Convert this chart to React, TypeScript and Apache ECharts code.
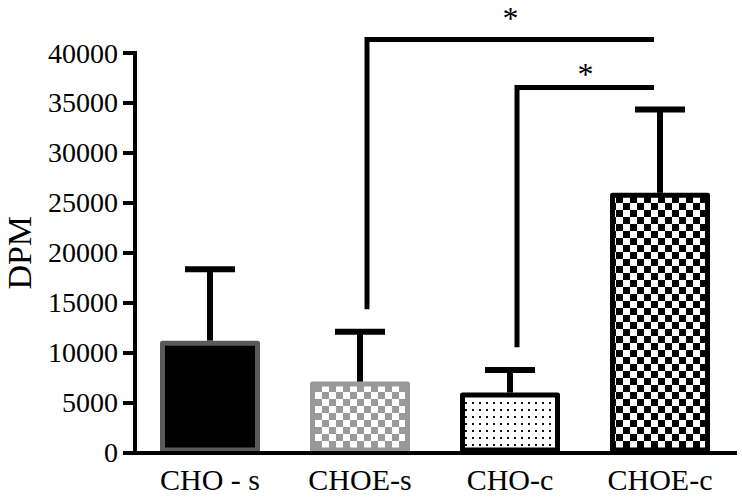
import React, { useEffect, useRef } from "react";
import * as echarts from "echarts";

const categories = ["CHO - s", "CHOE-s", "CHO-c", "CHOE-c"];
const means = [11200, 7100, 6000, 26000];
const errors = [7150, 5000, 2250, 8350];
const yTickMin = 0;
const yTickMax = 40000;
const yTickStep = 5000;
// significance brackets
const bracketFrom = [1, 2];
const bracketTo = [3, 3];
const bracketTop = [41350, 36550];
const bracketLegBottom = [14350, 10550];
const starValue = [43500, 37850];
const starText = ["*", "*"];

const FONT = "'Liberation Serif', 'Times New Roman', serif";

function makeTile(size: number, draw: (ctx: CanvasRenderingContext2D) => void) {
  const c = document.createElement("canvas");
  c.width = size;
  c.height = size;
  const ctx = c.getContext("2d")!;
  ctx.fillStyle = "#fff";
  ctx.fillRect(0, 0, size, size);
  draw(ctx);
  return { image: c.toDataURL(), repeat: "repeat", imageWidth: size, imageHeight: size } as any;
}

export default function App() {
  const ref = useRef<HTMLDivElement>(null);
  useEffect(() => {
    if (!ref.current) return;
    const chart = echarts.init(ref.current, null, { renderer: "svg" });

    const grayChecker = makeTile(14, (ctx) => {
      ctx.fillStyle = "#9a9a9a";
      ctx.fillRect(0, 0, 7, 7);
      ctx.fillRect(7, 7, 7, 7);
    });
    const blackChecker = makeTile(14, (ctx) => {
      ctx.fillStyle = "#000";
      ctx.fillRect(0, 0, 7, 7);
      ctx.fillRect(7, 7, 7, 7);
    });
    const dots = makeTile(7, (ctx) => {
      ctx.fillStyle = "#111";
      ctx.fillRect(3, 3, 2, 2);
    });

    const barStyles = [
      { color: "#000", borderColor: "#5a5a5a" },
      { color: grayChecker, borderColor: "#999" },
      { color: dots, borderColor: "#000" },
      { color: blackChecker, borderColor: "#000" },
    ];

    const barData = means.map((v, i) => ({
      value: v,
      itemStyle: { ...barStyles[i], borderWidth: 5, borderJoin: "round" },
    }));

    const errData = means.map((m, i) => [i, m, errors[i]]);
    const bracketData = bracketFrom.map((f, i) => [
      f,
      bracketTo[i],
      bracketTop[i],
      bracketLegBottom[i],
      starValue[i],
    ]);

    const option: any = {
      animation: false,
      backgroundColor: "#fff",
      grid: {
        left: 135,
        right: 7,
        top: 53,
        bottom: 49.5,
        containLabel: false,
        outerBoundsMode: "none",
      },
      xAxis: {
        type: "category",
        data: categories,
        z: 10,
        axisLine: { lineStyle: { color: "#000", width: 4, cap: "square" } },
        axisTick: { alignWithLabel: true, length: 9, lineStyle: { color: "#000", width: 4 } },
        axisLabel: { color: "#000", fontFamily: FONT, fontSize: 30, margin: 12 },
      },
      yAxis: {
        type: "value",
        min: yTickMin,
        max: yTickMax,
        interval: yTickStep,
        z: 10,
        name: "DPM",
        nameLocation: "middle",
        nameRotate: 90,
        nameGap: 99,
        nameTextStyle: { color: "#000", fontFamily: FONT, fontSize: 34 },
        splitLine: { show: false },
        axisLine: { show: true, lineStyle: { color: "#000", width: 4, cap: "square" } },
        axisTick: { show: true, length: 12, lineStyle: { color: "#000", width: 4 } },
        axisLabel: {
          color: "#000",
          fontFamily: FONT,
          fontSize: 28,
          margin: 17,
          formatter: (v: number) => String(v),
        },
      },
      series: [
        {
          type: "bar",
          data: barData,
          barWidth: 100,
        },
        {
          type: "custom",
          data: errData,
          encode: { x: 0, y: [1, 2] },
          z: 3,
          renderItem: (params: any, api: any) => {
            const i = api.value(0);
            const m = api.value(1);
            const e = api.value(2);
            const base = api.coord([i, m]);
            const top = api.coord([i, m + e]);
            const st = { stroke: "#000", lineWidth: 6 };
            return {
              type: "group",
              children: [
                { type: "line", shape: { x1: base[0], y1: base[1], x2: top[0], y2: top[1] }, style: st },
                { type: "line", shape: { x1: top[0] - 25, y1: top[1], x2: top[0] + 25, y2: top[1] }, style: st },
              ],
            };
          },
        },
        {
          type: "custom",
          data: bracketData,
          encode: { x: [0, 1], y: [2, 3] },
          z: 3,
          clip: false,
          renderItem: (params: any, api: any) => {
            const a = api.coord([api.value(0), api.value(2)]);
            const b = api.coord([api.value(1), api.value(2)]);
            const bottom = api.coord([api.value(0), api.value(3)]);
            const star = api.coord([api.value(0), api.value(4)]);
            const x1 = a[0] + 7;
            const x2 = b[0] - 6;
            return {
              type: "group",
              children: [
                {
                  type: "polyline",
                  shape: { points: [[x1, bottom[1]], [x1, a[1]], [x2, a[1]]] },
                  style: { stroke: "#000", lineWidth: 5, fill: null, lineJoin: "miter" },
                },
                {
                  type: "text",
                  x: (x1 + x2) / 2,
                  y: star[1],
                  style: {
                    text: starText[params.dataIndex],
                    fontFamily: FONT,
                    fontSize: 32,
                    fill: "#000",
                    align: "center",
                    verticalAlign: "middle",
                  },
                },
              ],
            };
          },
        },
      ],
    };
    chart.setOption(option);
    return () => chart.dispose();
  }, []);
  return (
    <div
      ref={ref}
      style={{ position: "absolute", left: 0, top: 0, width: 742, height: 502, background: "#fff" }}
    />
  );
}
